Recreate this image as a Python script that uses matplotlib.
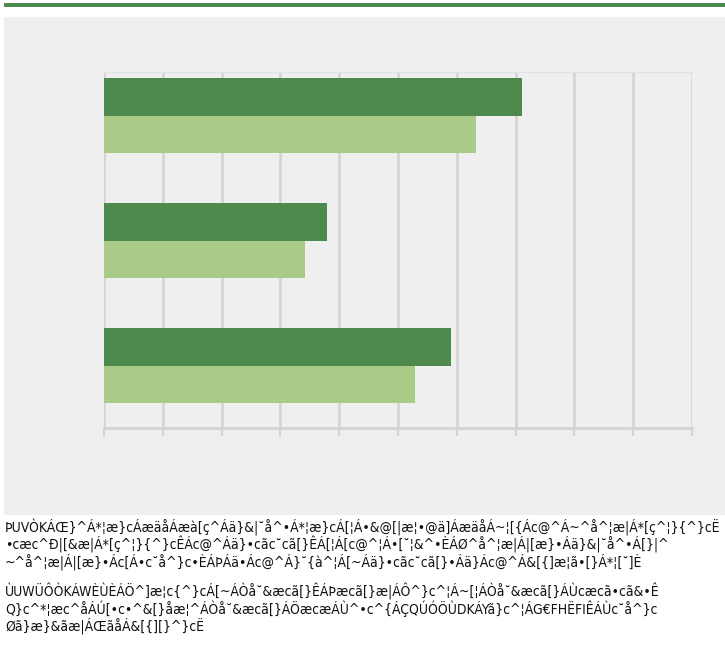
import matplotlib

matplotlib.use("Agg")
import matplotlib.pyplot as plt  # noqa: E402
from matplotlib.patches import Rectangle  # noqa: E402

W, H = 725, 647

categories = ["A", "B", "C"]
series_dark = [71.1, 37.9, 59.0]
series_light = [63.3, 34.2, 52.9]
x_ticks = [0, 10, 20, 30, 40, 50, 60, 70, 80, 90, 100]

note_lines = [
    "ÞUVÒKÁŒ}^Á*¦æ}cÁæäåÁæà[ç^Áä}&|˘å^•Á*¦æ}cÁ[¦Á•&@[|æ¦•@ä]ÁæäåÁ~¦[{Ác@^Á~^å^¦æ|Á*[ç^¦}{^}cË",
    "•cæc^Ð|[&æ|Á*[ç^¦}{^}cÊÁc@^Áä}•cãc˘cã[}ÊÁ[¦Á[c@^¦Á•[˘¦&^•ÈÁØ^å^¦æ|Á|[æ}•Áä}&|˘å^•Á[}|^",
    "~^å^¦æ|Á|[æ}•Ác[Á•c˘å^}c•ÈÁÞÁä•Ác@^Á}˘{à^¦Á[~Áä}•cãc˘cã[}•Áä}Ác@^Á&[{]æ¦ã•[}Á*¦[˘]È",
]
source_lines = [
    "ÙUWÜÔÒKÁWÈÙÈÁÖ^]æ¦c{^}cÁ[~ÁÒå˘&æcã[}ÊÁÞæcã[}æ|ÁÔ^}c^¦Á~[¦ÁÒå˘&æcã[}ÁÙcæcã•cã&•Ê",
    "Q}c^*¦æc^åÁÚ[•c•^&[}åæ¦^ÁÒå˘&æcã[}ÁÖæcæÁÙ^•c^{ÁÇQÚÓÖÙDKÁYã}c^¦ÁG€FHËFIÊÁÙc˘å^}c",
    "Øã}æ}&ãæ|ÁŒãåÁ&[{][}^}cË",
]

DARK = "#4e8a4e"
LIGHT = "#aacb88"
PANEL = "#efefef"
GRID = "#d3d3d3"


def fx(px):
    return px / W


def fy(py):
    return 1.0 - py / H


fig = plt.figure(figsize=(W / 100, H / 100), dpi=100)
fig.patch.set_facecolor("white")
fig.patches.append(Rectangle((fx(4), fy(7)), fx(721), 4 / H, transform=fig.transFigure,
                             facecolor=DARK, edgecolor="none", zorder=-10))
fig.patches.append(Rectangle((fx(4), fy(515)), fx(721), 498 / H, transform=fig.transFigure,
                             facecolor=PANEL, edgecolor="none", zorder=-10))

ax = fig.add_axes([fx(104), fy(428), fx(692 - 104), (428 - 72) / H])
ax.set_facecolor(PANEL)
pos = list(range(len(categories)))
bar_h = 0.3
ax.barh([p - bar_h / 2 for p in pos], series_dark, height=bar_h, color=DARK, zorder=3)
ax.barh([p + bar_h / 2 for p in pos], series_light, height=bar_h, color=LIGHT, zorder=3)
ax.set_xlim(x_ticks[0], x_ticks[-1])
ax.set_ylim(2.496, -0.348)
ax.set_xticks(x_ticks)
ax.set_yticks([])
ax.tick_params(axis="x", length=6, width=1.5, color=GRID, labelbottom=False)
ax.grid(axis="x", color=GRID, linewidth=1.8, zorder=0)
for side in ["left", "right"]:
    ax.spines[side].set_visible(False)
ax.spines["top"].set_color("#e2e2e2")
ax.spines["top"].set_linewidth(1)
ax.spines["bottom"].set_color(GRID)
ax.spines["bottom"].set_linewidth(2)

# condensed face, sized so the first line spans the panel width like the reference
text_kw = dict(family="DejaVu Sans", fontstretch="condensed", va="center", ha="left",
               color="#111111")
probe = fig.text(0, 0, note_lines[0], fontsize=10, **text_kw)
fig.canvas.draw()
width_px = probe.get_window_extent().width
probe.remove()
size = 10 * 715 / width_px

for i, line in enumerate(note_lines):
    fig.text(fx(5), fy(527 + 17.5 * i), line, fontsize=size, **text_kw)
for i, line in enumerate(source_lines):
    fig.text(fx(5), fy(591 + 17.5 * i), line, fontsize=size, **text_kw)

fig.savefig("out.png", dpi=100, facecolor=fig.get_facecolor())
